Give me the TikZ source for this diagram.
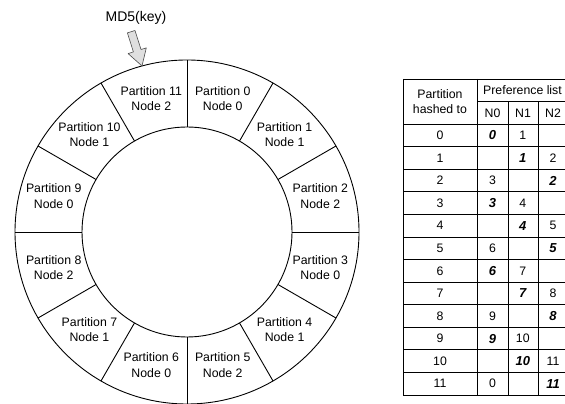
\documentclass[tikz,border=0pt]{standalone}
\usepackage{fontspec}
\setmainfont{Liberation Sans}
\usetikzlibrary{calc}
\begin{document}
\begin{tikzpicture}[x=1pt,y=1pt,
  lbl/.style={align=center,font=\fontsize{12.3}{15.5}\selectfont,inner sep=0pt},
  cell/.style={font=\fontsize{12.3}{15}\selectfont,inner sep=0pt},
  bcell/.style={inner sep=0pt,font=\fontsize{13}{15}\selectfont\bfseries\itshape},
  ring/.style={line width=0.9pt},
  gridline/.style={line width=0.8pt},
  blockarrow/.style={fill=gray!25,draw=black!70,line width=0.6pt,line join=round}]
\useasboundingbox (0,0) rectangle (565,404);
% ring
\coordinate (c) at (187,172);
\draw[ring] (c) circle[radius=172];
\draw[ring] (c) circle[radius=105];
\foreach \k in {0,...,11}{
  \pgfmathsetmacro\a{90-30*\k}
  \pgfmathsetmacro\b{75-30*\k}
  \pgfmathtruncatemacro\n{mod(\k,3)}
  \draw[ring] ($(c)+(\a:105)$) -- ($(c)+(\a:172)$);
  \node[lbl] (p\k) at ($(c)+(\b:138)$) {Partition \k\\Node \n};
}
% MD5 arrow
\node[font=\fontsize{14}{16}\selectfont,inner sep=0pt] (md5) at (136,386) {MD5(key)};
\draw[blockarrow] (127.4,371.1) -- (135.0,373.5) -- (141.0,354.5) -- (146.3,356.1)
  -- (142,338) -- (128.1,350.4) -- (133.4,352.1) -- cycle;
% table
\def\rh{22.57}
\foreach \i in {0,2,3,...,14}{
  \draw[gridline] (403,{325-\i*\rh}) -- (568,{325-\i*\rh});
}
\draw[gridline] (477,{325-\rh}) -- (568,{325-\rh});
\draw[gridline] (403,325) -- (403,{325-14*\rh});
\draw[gridline] (477,325) -- (477,{325-14*\rh});
\draw[gridline] (508,{325-\rh}) -- (508,{325-14*\rh});
\draw[gridline] (538,{325-\rh}) -- (538,{325-14*\rh});
\draw[gridline] (568,325) -- (568,{325-14*\rh});
\node[cell,align=center] (hdr) at (440,{325-\rh}) {Partition\\hashed to};
\node[cell] (pref) at (522.5,{325-0.5*\rh}) {Preference list};
\node[cell] (n0) at (492.5,{325-1.5*\rh}) {N0};
\node[cell] (n1) at (523,{325-1.5*\rh}) {N1};
\node[cell] (n2) at (553,{325-1.5*\rh}) {N2};
\foreach \k in {0,...,11}{
  \pgfmathsetmacro\y{325-(\k+2.5)*\rh}
  \pgfmathtruncatemacro\ca{mod(\k,3)}
  \pgfmathtruncatemacro\cb{mod(\k+1,3)}
  \pgfmathtruncatemacro\nx{mod(\k+1,12)}
  \pgfmathsetmacro\xa{492.5+30.25*\ca}
  \pgfmathsetmacro\xb{492.5+30.25*\cb}
  \node[cell] (r\k) at (440,\y) {\k};
  \node[bcell] (b\k) at (\xa,\y) {\k};
  \node[cell] (s\k) at (\xb,\y) {\nx};
}
\end{tikzpicture}
\end{document}
